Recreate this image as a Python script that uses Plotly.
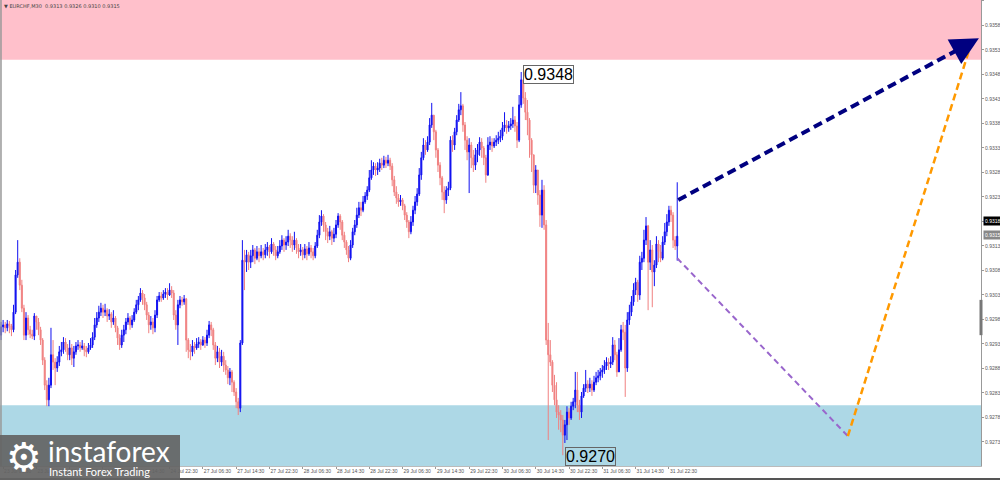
import plotly.graph_objects as go

# ---------------- data (prices in points: 1 point = 0.00001) ----------------
symbol = "EURCHF,M30"
first_open_pts = 92948

close_pts = [
    92965, 92969, 92963, 92971, 92967, 92959, 92995, 93071, 93097, 93050,
    93003, 92948, 92983, 92959, 92950, 92946, 92987, 92975, 92959, 92938,
    92897, 92846, 92816, 92846, 92908, 92893, 92881, 92893, 92914, 92918,
    92934, 92922, 92908, 92922, 92901, 92914, 92926, 92928, 92922, 92926,
    92918, 92914, 92922, 92928, 92944, 92969, 92983, 92995, 93003, 92995,
    92999, 92987, 92991, 92975, 92983, 92963, 92942, 92928, 92948, 92959,
    92975, 92983, 92969, 92979, 92995, 93010, 93020, 93034, 93024, 93010,
    92989, 92969, 92975, 92963, 92989, 93020, 93028, 93024, 93032, 93036,
    93030, 93040, 93034, 92989, 92969, 93010, 93020, 93016, 93022, 92938,
    92918, 92914, 92926, 92922, 92930, 92934, 92928, 92938, 92932, 92948,
    92969, 92959, 92928, 92901, 92914, 92893, 92905, 92887, 92877, 92861,
    92873, 92852, 92832, 92812, 92799, 92932, 93101, 93097, 93112, 93097,
    93110, 93122, 93105, 93118, 93110, 93118, 93112, 93122, 93128, 93118,
    93134, 93122, 93110, 93118, 93130, 93142, 93132, 93138, 93150, 93142,
    93132, 93142, 93126, 93118, 93122, 93112, 93124, 93114, 93126, 93118,
    93110, 93130, 93152, 93179, 93191, 93173, 93159, 93150, 93159, 93146,
    93154, 93173, 93191, 93179, 93152, 93138, 93122, 93105, 93132, 93159,
    93173, 93193, 93208, 93203, 93220, 93232, 93244, 93269, 93285, 93293,
    93285, 93289, 93299, 93295, 93305, 93299, 93305, 93293, 93265, 93240,
    93228, 93220, 93224, 93212, 93193, 93179, 93159, 93179, 93203, 93220,
    93236, 93275, 93310, 93336, 93326, 93342, 93377, 93397, 93363, 93326,
    93295, 93269, 93240, 93224, 93244, 93248, 93346, 93336, 93363, 93387,
    93408, 93416, 93377, 93346, 93322, 93336, 93310, 93295, 93316, 93326,
    93342, 93330, 93310, 93275, 93336, 93342, 93334, 93342, 93346, 93350,
    93354, 93371, 93377, 93371, 93375, 93379, 93387, 93375, 93346, 93418,
    93469, 93432, 93403, 93387, 93346, 93316, 93254, 93285, 93234, 93193,
    93244, 93173, 92938, 92908, 92893, 92846, 92816, 92791, 92785, 92775,
    92744, 92765, 92791, 92779, 92803, 92812, 92836, 92805, 92791, 92824,
    92840, 92848, 92840, 92848, 92836, 92852, 92861, 92865, 92873, 92877,
    92885, 92893, 92889, 92893, 92928, 92908, 92873, 92918, 92959, 92954,
    92881, 92979, 92995, 93016, 93040, 93056, 93030, 93097, 93105, 93142,
    93171, 93097, 93122, 93077, 93091, 93134, 93118, 93105, 93138, 93159,
    93179, 93203, 93193, 93142, 93130, 93150,
]

high_pts = [
    92975, 92979, 92975, 92979, 92977, 92971, 93010, 93081, 93142, 93105,
    93061, 93010, 92995, 92989, 92967, 92959, 92993, 92987, 92983, 92965,
    92942, 92903, 92856, 92861, 92963, 92938, 92901, 92905, 92926, 92934,
    92944, 92942, 92930, 92938, 92930, 92926, 92934, 92938, 92934, 92938,
    92932, 92926, 92932, 92942, 92954, 92983, 92995, 93008, 93014, 93010,
    93012, 93003, 93001, 92995, 92999, 92987, 92967, 92950, 92959, 92969,
    92983, 92993, 92987, 92989, 93003, 93020, 93028, 93044, 93040, 93032,
    93016, 92995, 92987, 92983, 92999, 93028, 93036, 93036, 93040, 93044,
    93044, 93054, 93048, 93040, 92999, 93020, 93028, 93026, 93030, 93024,
    92942, 92930, 92938, 92934, 92942, 92944, 92940, 92946, 92944, 92959,
    92977, 92975, 92963, 92934, 92926, 92922, 92918, 92914, 92897, 92885,
    92881, 92877, 92856, 92840, 92820, 92938, 93142, 93122, 93122, 93118,
    93122, 93132, 93126, 93130, 93126, 93132, 93126, 93134, 93138, 93132,
    93146, 93138, 93130, 93130, 93142, 93152, 93146, 93150, 93163, 93156,
    93150, 93159, 93146, 93134, 93134, 93128, 93134, 93130, 93138, 93132,
    93126, 93138, 93163, 93193, 93203, 93195, 93179, 93167, 93171, 93163,
    93167, 93183, 93197, 93195, 93183, 93159, 93142, 93130, 93142, 93167,
    93183, 93208, 93220, 93220, 93232, 93240, 93252, 93285, 93305, 93301,
    93299, 93301, 93308, 93310, 93314, 93312, 93316, 93310, 93299, 93273,
    93252, 93236, 93234, 93228, 93216, 93199, 93183, 93191, 93212, 93232,
    93248, 93289, 93322, 93350, 93346, 93354, 93391, 93422, 93395, 93367,
    93330, 93301, 93273, 93252, 93252, 93261, 93354, 93356, 93371, 93397,
    93420, 93444, 93420, 93383, 93354, 93350, 93342, 93326, 93330, 93338,
    93352, 93350, 93334, 93316, 93352, 93354, 93350, 93350, 93356, 93363,
    93367, 93383, 93403, 93387, 93385, 93391, 93414, 93395, 93383, 93438,
    93485, 93465, 93444, 93428, 93391, 93350, 93316, 93295, 93281, 93244,
    93265, 93254, 93183, 92973, 92938, 92897, 92867, 92852, 92805, 92795,
    92785, 92775, 92803, 92799, 92812, 92820, 92873, 92873, 92816, 92832,
    92848, 92877, 92856, 92861, 92856, 92865, 92873, 92877, 92881, 92887,
    92897, 92903, 92901, 92905, 92944, 92938, 92914, 92942, 92969, 92975,
    92969, 92995, 93010, 93028, 93054, 93065, 93061, 93110, 93118, 93163,
    93189, 93173, 93142, 93132, 93101, 93150, 93142, 93132, 93150, 93177,
    93195, 93212, 93212, 93199, 93150, 93260,
]

low_pts = [
    92938, 92954, 92952, 92956, 92952, 92946, 92954, 92991, 93065, 93040,
    92995, 92938, 92938, 92948, 92942, 92940, 92938, 92959, 92948, 92928,
    92887, 92836, 92803, 92803, 92840, 92877, 92846, 92873, 92885, 92905,
    92910, 92914, 92897, 92897, 92887, 92883, 92908, 92918, 92914, 92918,
    92905, 92903, 92910, 92918, 92922, 92938, 92963, 92975, 92987, 92983,
    92987, 92975, 92979, 92963, 92969, 92954, 92928, 92918, 92922, 92934,
    92950, 92969, 92959, 92963, 92975, 92991, 92999, 93016, 93010, 92999,
    92979, 92952, 92959, 92950, 92954, 92983, 93016, 93016, 93020, 93024,
    93020, 93028, 93024, 92979, 92959, 92928, 93003, 93008, 93010, 92914,
    92901, 92897, 92905, 92910, 92918, 92922, 92918, 92926, 92922, 92926,
    92942, 92946, 92918, 92887, 92893, 92881, 92885, 92873, 92867, 92848,
    92846, 92832, 92824, 92799, 92785, 92791, 92928, 93040, 93077, 93081,
    93085, 93097, 93093, 93101, 93097, 93105, 93101, 93105, 93110, 93105,
    93114, 93110, 93101, 93105, 93114, 93122, 93118, 93122, 93130, 93126,
    93118, 93122, 93114, 93105, 93110, 93101, 93105, 93101, 93110, 93105,
    93101, 93105, 93126, 93146, 93171, 93159, 93142, 93136, 93142, 93132,
    93138, 93146, 93167, 93163, 93142, 93126, 93112, 93097, 93101, 93126,
    93152, 93167, 93187, 93191, 93199, 93216, 93224, 93240, 93265, 93275,
    93273, 93275, 93281, 93285, 93289, 93289, 93293, 93285, 93252, 93232,
    93216, 93210, 93212, 93203, 93183, 93167, 93146, 93154, 93171, 93195,
    93212, 93232, 93265, 93305, 93316, 93322, 93336, 93371, 93346, 93310,
    93281, 93254, 93224, 93197, 93216, 93232, 93244, 93322, 93326, 93356,
    93383, 93397, 93363, 93326, 93305, 93238, 93289, 93281, 93285, 93301,
    93314, 93310, 93295, 93259, 93273, 93326, 93322, 93330, 93334, 93338,
    93342, 93346, 93363, 93359, 93363, 93367, 93371, 93363, 93330, 93342,
    93412, 93420, 93387, 93356, 93310, 93281, 93238, 93238, 93214, 93169,
    93167, 93163, 92928, 92734, 92885, 92832, 92805, 92779, 92755, 92750,
    92703, 92728, 92734, 92765, 92775, 92795, 92799, 92791, 92775, 92779,
    92820, 92832, 92830, 92832, 92824, 92832, 92846, 92852, 92856, 92861,
    92869, 92877, 92877, 92881, 92887, 92897, 92863, 92873, 92914, 92938,
    92822, 92873, 92969, 92987, 93008, 93030, 93016, 93020, 93081, 93097,
    93132, 92999, 93081, 93005, 93048, 93085, 93097, 93097, 93101, 93132,
    93150, 93171, 93179, 93126, 93122, 93100,
]

tick_bars = [1, 17, 33, 49, 65, 81, 97, 113, 129, 145, 161, 177, 193, 209,
             225, 241, 257, 273, 289, 305, 321]
tick_labels = ["23 Jul 06:30", "23 Jul 14:30", "23 Jul 22:30", "24 Jul 06:30",
               "24 Jul 14:30", "24 Jul 22:30", "27 Jul 06:30", "27 Jul 14:30",
               "27 Jul 22:30", "28 Jul 06:30", "28 Jul 14:30", "28 Jul 22:30",
               "29 Jul 06:30", "29 Jul 14:30", "29 Jul 22:30", "30 Jul 06:30",
               "30 Jul 14:30", "30 Jul 22:30", "31 Jul 06:30", "31 Jul 14:30",
               "31 Jul 22:30"]
price_ticks = [0.9273, 0.9278, 0.9283, 0.9288, 0.9293, 0.9298, 0.9303, 0.9308,
               0.9313, 0.9318, 0.9323, 0.9328, 0.9333, 0.9338, 0.9343, 0.9348,
               0.9353, 0.9358, 0.9363]

resistance_zone = [0.93510, 0.93640]
support_zone = [0.92670, 0.92805]
price_range = [0.92681, 0.93632]
bar_range = [-0.5, 471]

high_label = {"bar": 250, "price": 0.9348, "text": "0.9348"}
low_label = {"bar": 270, "price": 0.9270, "text": "0.9270"}

bid_price = 0.9318
last_price = 0.9315

navy_bars, navy_prices = [325.5, 470.0], [0.93224, 0.93554]
purple_bars, purple_prices = [325.0, 407.0], [0.93105, 0.92742]
orange_bars, orange_prices = [407.0, 465.0], [0.92742, 0.93526]

# ---------------- build OHLC ----------------
n = min(len(close_pts), len(high_pts), len(low_pts))
closes = [c / 1e5 for c in close_pts[:n]]
opens = [first_open_pts / 1e5] + closes[:-1]
highs = [max(h / 1e5, o, c) for h, o, c in zip(high_pts[:n], opens, closes)]
lows = [min(l / 1e5, o, c) for l, o, c in zip(low_pts[:n], opens, closes)]
bars = list(range(n))

fig = go.Figure()
fig.add_trace(go.Candlestick(
    x=bars, open=opens, high=highs, low=lows, close=closes,
    increasing=dict(line=dict(color="#1010F0", width=1), fillcolor="#1010F0"),
    decreasing=dict(line=dict(color="#F08080", width=1), fillcolor="#F08080"),
    whiskerwidth=0, showlegend=False, hoverinfo="skip",
))

W_PLOT, H_PLOT = 981, 466
AX_FONT = dict(family="Liberation Sans, Arial", size=5, color="#555555")

shapes = [
    dict(type="rect", xref="x domain", yref="y", x0=0, x1=1,
         y0=resistance_zone[0], y1=resistance_zone[1],
         fillcolor="#FFC0CB", line=dict(width=0), layer="below"),
    dict(type="rect", xref="x domain", yref="y", x0=0, x1=1,
         y0=support_zone[0], y1=support_zone[1],
         fillcolor="#ADD8E6", line=dict(width=0), layer="below"),
    # forecast paths
    dict(type="line", xref="x", yref="y", x0=purple_bars[0], y0=purple_prices[0],
         x1=purple_bars[1], y1=purple_prices[1],
         line=dict(color="#9966CC", width=2, dash="6px,4px"), layer="above"),
    dict(type="line", xref="x", yref="y", x0=orange_bars[0], y0=orange_prices[0],
         x1=orange_bars[1], y1=orange_prices[1],
         line=dict(color="#FF9900", width=2.5, dash="7px,4px"), layer="above"),
    dict(type="line", xref="x", yref="y", x0=navy_bars[0], y0=navy_prices[0],
         x1=navy_bars[1] - 6, y1=navy_prices[1] - 0.00014,
         line=dict(color="#000080", width=4, dash="9px,5px"), layer="above"),
    # left border
    dict(type="line", xref="paper", yref="paper", x0=0.001, x1=0.001, y0=0, y1=1,
         line=dict(color="#999999", width=1.5)),
    # bottom window border
    dict(type="rect", xref="paper", yref="paper", x0=0, x1=1000 / W_PLOT,
         y0=-(480 - H_PLOT) / H_PLOT, y1=-(478 - H_PLOT) / H_PLOT,
         fillcolor="#555555", line=dict(width=0)),
    # scroll marker on price axis
    dict(type="line", xref="paper", yref="y", x0=1.0, x1=1.0, y0=0.92948, y1=0.93020,
         line=dict(color="#777777", width=3)),
    # logo box
    dict(type="rect", xref="paper", yref="paper", x0=0, x1=180 / W_PLOT,
         y0=-(480 - H_PLOT) / H_PLOT, y1=(H_PLOT - 435) / H_PLOT,
         fillcolor="rgba(100,100,100,0.93)", line=dict(width=0)),
]

annotations = [
    # navy arrow head
    dict(x=navy_bars[1], y=navy_prices[1], xref="x", yref="y", text="",
         showarrow=True, arrowhead=2, arrowsize=1.6, arrowwidth=3.5,
         arrowcolor="#000080", ax=-18, ay=10, standoff=0),
    # high / low labels
    dict(x=high_label["bar"], y=high_label["price"], xref="x", yref="y",
         text=high_label["text"], showarrow=False, xanchor="left", xshift=2,
         font=dict(family="Liberation Sans, Arial", size=16, color="#000000"),
         bgcolor="#FFFFFF", bordercolor="#666666", borderwidth=1, borderpad=0),
    dict(x=low_label["bar"], y=low_label["price"], xref="x", yref="y",
         text=low_label["text"], showarrow=False, xanchor="left", xshift=2,
         font=dict(family="Liberation Sans, Arial", size=16, color="#000000"),
         bgcolor="#ADD8E6", bordercolor="#666666", borderwidth=1, borderpad=0),
    # price tags on axis
    dict(x=1.002, y=bid_price, xref="paper", yref="y", text=f"{bid_price:.4f}",
         showarrow=False, xanchor="left",
         font=dict(family="Liberation Sans, Arial", size=5, color="#FFFFFF"),
         bgcolor="#000000", borderpad=1),
    dict(x=1.002, y=last_price + 0.00002, xref="paper", yref="y", text=f"{last_price:.4f}",
         showarrow=False, xanchor="left",
         font=dict(family="Liberation Sans, Arial", size=5, color="#FFFFFF"),
         bgcolor="#888888", borderpad=1),
    # header
    dict(x=2 / W_PLOT, y=1 - 1 / H_PLOT, xref="paper", yref="paper",
         text=f"▼ {symbol}  {opens[-1]:.4f} {highs[-1]:.4f} {lows[-1]:.4f} {closes[-1]:.4f}",
         showarrow=False, xanchor="left", yanchor="top",
         font=dict(family="DejaVu Sans", size=5, color="#444444")),
    # logo
    dict(x=4 / W_PLOT, y=(H_PLOT - 457) / H_PLOT, xref="paper", yref="paper",
         text="⚙", showarrow=False, xanchor="left", yanchor="middle",
         font=dict(family="DejaVu Sans", size=40, color="#FFFFFF")),
    dict(x=46 / W_PLOT, y=(H_PLOT - 451) / H_PLOT, xref="paper", yref="paper",
         text="instaforex", showarrow=False, xanchor="left", yanchor="middle",
         font=dict(family="Lato", size=28, color="#FFFFFF")),
    dict(x=47 / W_PLOT, y=(H_PLOT - 471) / H_PLOT, xref="paper", yref="paper",
         text="Instant Forex Trading", showarrow=False, xanchor="left", yanchor="middle",
         font=dict(family="Lato", size=11, color="#FFFFFF")),
]

fig.update_layout(
    width=1000, height=480,
    margin=dict(l=0, r=1000 - W_PLOT, t=0, b=480 - H_PLOT, pad=0),
    paper_bgcolor="#FFFFFF", plot_bgcolor="#FFFFFF",
    shapes=shapes, annotations=annotations, showlegend=False,
    xaxis=dict(range=bar_range, tickmode="array", tickvals=tick_bars, ticktext=tick_labels,
               tickfont=AX_FONT, tickangle=0,
               ticks="outside", ticklen=2, tickcolor="#999999",
               ticklabelposition="outside right",
               showline=True, linecolor="#BBBBBB", linewidth=1,
               showgrid=False, zeroline=False, automargin=False,
               rangeslider=dict(visible=False), fixedrange=True),
    yaxis=dict(range=price_range, side="right", tickmode="array", tickvals=price_ticks,
               ticktext=[f"{p:.4f}" for p in price_ticks],
               tickfont=AX_FONT,
               ticks="outside", ticklen=2, tickcolor="#999999",
               showline=True, linecolor="#999999", linewidth=1,
               showgrid=False, zeroline=False, automargin=False, fixedrange=True),
)

fig.write_html("out.html", config={"displayModeBar": False},
               post_script="document.body.style.margin='0px';")
